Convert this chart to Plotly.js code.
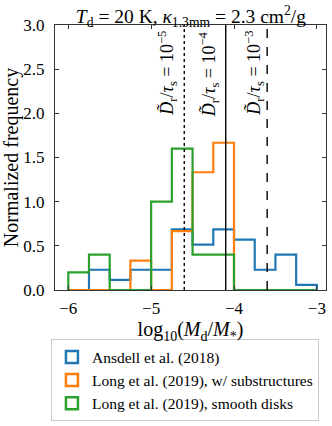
<!DOCTYPE html>
<html>
<head>
<meta charset="utf-8">
<script src="https://cdn.plot.ly/plotly-3.0.1.min.js"></script>
<style>
  body { margin: 0; background: #fff; }
  #myGraph { width: 332px; height: 426px; }
</style>
</head>
<body>
<div id="myGraph"></div>
<script>
// bin edges of log10(Md/M*), width 0.25
const binEdges = [-6, -5.75, -5.5, -5.25, -5, -4.75, -4.5, -4.25, -4, -3.75, -3.5, -3.25, -3];
// normalized frequency per bin
const ansdell = [0, 0.229, 0.114, 0.229, 0.229, 0.686, 0.514, 0.686, 0.571, 0.229, 0.4, 0.057];
const longSub = [0, 0, 0, 0.333, 0, 0.667, 1.333, 1.667, 0, 0, 0, 0];
const longSmooth = [0.2, 0.4, 0, 0, 1.0, 1.6, 0.4, 0.4, 0, 0, 0, 0];
const seriesNames = ["Ansdell et al. (2018)", "Long et al. (2019), w/ substructures", "Long et al. (2019), smooth disks"];
const seriesColors = ["#1f77b4", "#ff7f0e", "#2ca02c"];
// D_r/tau_s reference lines
const lineX = [-4.6, -4.1, -3.6];
const lineExp = ["−5", "−4", "−3"];
const lineDash = ["dot", "solid", "dash"];

const serif = "'Liberation Serif', serif";

//turn bin values into a step outline like matplotlib histtype='step'
function stepLine(values) {
  let xs = [binEdges[0]];
  let ys = [0];
  for (let i = 0; i < values.length; i++) {
    xs.push(binEdges[i], binEdges[i + 1]);
    ys.push(values[i], values[i]);
  }
  xs.push(binEdges[binEdges.length - 1]);
  ys.push(0);
  return { x: xs, y: ys };
}

let dataArray = [];
[ansdell, longSub, longSmooth].forEach((vals, i) => {
  let s = stepLine(vals);
  dataArray.push({
    x: s.x, y: s.y, type: "scatter", mode: "lines",
    line: { color: seriesColors[i], width: 2.2 },
    showlegend: false, hoverinfo: "skip"
  });
});
//dummy bars just for the square legend icons
seriesNames.forEach((name, i) => {
  dataArray.push({
    x: [null], y: [null], type: "bar", name: name,
    marker: { color: "rgba(0,0,0,0)", line: { color: seriesColors[i], width: 2.5 } }
  });
});

let shapes = lineX.map((x, i) => ({
  type: "line", xref: "x", yref: "paper", x0: x, x1: x, y0: 0, y1: 1,
  line: { color: "black", width: 1.4, dash: lineDash[i] }
}));
let shiftX = [-17, -17.5, -13];
let annotations = lineX.map((x, i) => ({
  x: x, y: 3, xref: "x", yref: "y",
  xanchor: "center", yanchor: "top", yshift: -4, xshift: shiftX[i],
  textangle: -90, showarrow: false,
  text: "<i>D̃</i><sub>r</sub>/<i>τ</i><sub>s</sub> = 10<sup>" + lineExp[i] + "</sup>",
  font: { family: serif, size: 18, color: "black" }
}));

var layout = {
  width: 332, height: 426,
  margin: { l: 55, r: 6, t: 25, b: 135 },
  paper_bgcolor: "white", plot_bgcolor: "white",
  font: { family: serif, size: 16, color: "black" },
  title: {
    text: "<i>T</i><sub>d</sub> = 20 K, <i>κ</i><sub>1.3mm</sub> = 2.3 cm<sup>2</sup>/g",
    font: { family: serif, size: 19.5 }, x: 0.575, xanchor: "center", y: 0.978, yanchor: "top"
  },
  xaxis: {
    range: [-6.16, -2.89], tickvals: [-6, -5, -4, -3], ticktext: ["−6", "−5", "−4", "−3"],
    ticks: "inside", ticklen: 4, tickcolor: "#333", mirror: "ticks",
    showline: true, linecolor: "#333", linewidth: 1, showgrid: false, zeroline: false,
    tickfont: { family: serif, size: 17 }, ticklabelstandoff: 3,
    title: {
      text: "log<sub>10</sub>(<i>M</i><sub>d</sub>/<i>M</i><sub>*</sub>)",
      font: { family: serif, size: 20 }, standoff: 4
    }
  },
  yaxis: {
    range: [0, 3], tickvals: [0, 0.5, 1, 1.5, 2, 2.5, 3],
    ticktext: ["0.0", "0.5", "1.0", "1.5", "2.0", "2.5", "3.0"],
    ticks: "inside", ticklen: 4, tickcolor: "#333", mirror: "ticks",
    showline: true, linecolor: "#333", linewidth: 1, showgrid: false, zeroline: false,
    tickfont: { family: serif, size: 17 }, ticklabelstandoff: 6,
    title: { text: "Normalized frequency", font: { family: serif, size: 20 } }
  },
  showlegend: true,
  legend: {
    x: -0.015, xanchor: "left", y: -0.49, yanchor: "bottom",
    bordercolor: "#ccc", borderwidth: 1, bgcolor: "white",
    font: { family: serif, size: 15.5 }
  },
  shapes: shapes,
  annotations: annotations
};

Plotly.newPlot("myGraph", dataArray, layout, { staticPlot: true });
</script>
</body>
</html>
